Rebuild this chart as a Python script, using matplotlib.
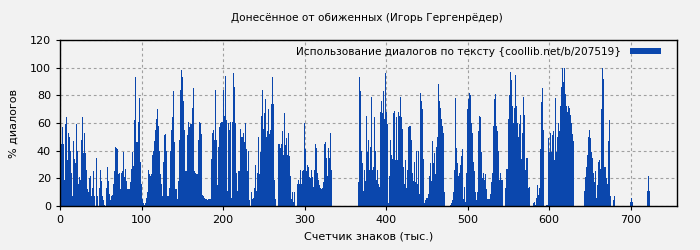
import numpy as np
import matplotlib
matplotlib.use("Agg")
import matplotlib.pyplot as plt

# Share of dialogue (%) per text chunk left to right
part1 = [34, 45, 57, 45, 19, 59, 64, 33, 53, 50, 40, 24, 7, 47, 34, 31, 59, 40, 16, 21,
         19, 48, 64, 38, 53, 38, 26, 12, 10, 20, 22, 7, 13, 25, 7, 0, 35, 7, 0, 13,
         26, 18, 7, 4, 1, 0, 13, 28, 18, 9, 4, 7, 8, 16, 25, 43, 42, 41, 23, 24,
         12, 24, 25, 39, 21, 27, 18, 12, 12, 12, 17, 27, 39, 29, 62, 93, 46, 46, 61, 78,
         32, 16, 5, 2, 1, 2, 6, 10, 26, 23, 22, 23, 37, 40, 47, 55, 63, 70, 58, 40,
         23, 16, 7, 32, 51, 52, 40, 7, 7, 13, 40, 55, 64, 83, 46, 12, 12, 5, 18, 48,
         84, 98, 93, 76, 55, 25, 25, 51, 61, 57, 59, 59, 71, 85, 25, 24, 23, 23, 48, 61,
         60, 52, 8, 7, 6, 5, 5, 4, 5, 5, 5]
part2 = [34, 53, 55, 48, 84, 48, 15, 43, 57, 60, 61, 61, 84, 65, 94, 62, 11, 60, 55, 61,
         6, 61, 96, 86, 60, 24, 11, 25, 25, 56, 50, 50, 53, 46, 60, 41, 25, 40, 4, 0,
         10, 5, 6, 13, 30, 11, 24, 50, 23, 39, 65, 84, 56, 67, 77, 50, 54, 70, 52, 55,
         74, 93, 74, 19, 5, 0, 0, 45, 45, 42, 45, 54, 37, 67, 44, 49, 37, 53, 36, 22,
         5, 10, 3, 10, 0, 0, 16, 19, 16, 26, 16, 25, 26, 60, 41, 25, 30, 28, 21, 20,
         26, 21, 14, 26, 45, 42, 24, 19, 15, 13, 12, 13, 17, 45, 46, 35, 22, 42, 35, 53,
         26,
         0, 0, 0, 0, 0, 0, 0, 0, 0, 0, 0, 0, 0, 0, 0, 0, 0, 0, 0, 0, 0, 0, 0, 0, 0,
         17, 93, 83, 40, 31, 11, 26, 18]
part3 = [65, 39, 48, 26, 43, 79, 26, 28, 64, 40, 19, 26, 16, 14, 68, 76, 67, 83, 63, 96,
         68, 59, 2, 22, 48, 37, 34, 67, 69, 33, 64, 33, 68, 65, 79, 64, 56, 28, 16, 33,
         13, 26, 57, 58, 58, 48, 24, 18, 32, 17, 40, 16, 40, 9, 82, 76, 70, 34, 2, 4,
         6, 6, 9, 22, 31, 18, 47, 31, 38, 23, 43, 50, 88, 76, 71, 63, 58, 53, 10, 0,
         0, 0, 0, 0, 1, 2, 4, 10, 26, 78, 42, 31, 22, 24, 30, 36, 41, 5, 14, 3,
         24, 70, 77, 82, 80, 60, 53, 32, 25, 10, 4, 10, 54, 65, 64, 39, 20, 24, 19, 23,
         12, 5, 5, 5, 9, 17, 24, 58, 77, 81, 58, 54, 40, 19, 24, 19, 19, 0, 0, 13,
         27, 27, 63, 80, 97, 91, 72, 60, 71, 95, 72, 60, 50, 59, 66, 34]
part4 = [53, 79, 66, 26, 35, 35, 13, 14, 0, 0, 0, 2, 3, 1, 6, 15, 8, 13, 41, 75,
         85, 55, 0, 0, 1, 1, 49, 39, 53, 39, 51, 54, 33, 78, 39, 50, 60, 54, 72, 86,
         100, 90, 100, 81, 72, 68, 72, 71, 66, 60, 52, 47,
         0, 0, 0, 0, 0, 0, 0, 0, 0, 0,
         11, 21, 28, 37, 50, 55, 49, 39, 35, 24, 17, 25, 6, 15, 32, 33, 27, 70, 100, 92,
         28, 28, 20, 16, 47, 62, 7, 0, 0, 4, 7,
         0, 0, 0, 0, 0, 0, 0, 0, 0, 0, 0, 0, 0, 0, 0,
         3, 6, 3,
         0, 0, 0, 0, 0, 0, 0, 0, 0, 0, 0, 0, 0, 0,
         11, 22, 11]

dialog_pct = part1 + part2 + part3 + part4
chunk_kchars = 1.227          # thousand characters per bar
x_start = 1.2

title = "Донесённое от обиженных (Игорь Гергенрёдер)"
series_label = "Использование диалогов по тексту {coollib.net/b/207519}"
xlabel = "Счетчик знаков (тыс.)"
ylabel = "% диалогов"
xticks = [0, 100, 200, 300, 400, 500, 600, 700]
yticks = [0, 20, 40, 60, 80, 100, 120]

bg = "#f2f2f2"
bar_color = "#0b47ad"

plt.rcParams['font.family'] = ['DejaVu Sans']
fig = plt.figure(figsize=(7, 2.5), dpi=100, facecolor=bg)
ax = fig.add_axes([60/700, 1-206/250, (677-60)/700, (206-40)/250])
ax.set_facecolor(bg)

xpos = x_start + np.arange(len(dialog_pct)) * chunk_kchars
ax.bar(xpos, dialog_pct, width=chunk_kchars, color=bar_color, linewidth=0,
       label=series_label, zorder=2)

ax.set_xlim(0, 757)
ax.set_ylim(0, 120)
ax.set_xticks(xticks)
ax.set_yticks(yticks)
ax.tick_params(labelsize=8, length=3, direction='out', colors='black')
ax.grid(True, color='#a0a0a0', linestyle=(0, (2.5, 2.5)), linewidth=0.8, zorder=1)
ax.set_axisbelow(True)
for s in ax.spines.values():
    s.set_linewidth(1.0)
    s.set_color('black')

ax.set_xlabel(xlabel, fontsize=8, labelpad=5)
ax.set_ylabel(ylabel, fontsize=8, labelpad=8)
fig.text(367/700, 1-18/250, title, ha='center', va='center', fontsize=7.6)

leg = ax.legend(loc='upper right', frameon=False, fontsize=7.6, markerfirst=False,
                handlelength=2.9, handleheight=0.55, borderaxespad=0.25,
                borderpad=0.4, handletextpad=0.9, bbox_to_anchor=(0.985, 1.0))

fig.savefig("out.png", dpi=100, facecolor=bg)
